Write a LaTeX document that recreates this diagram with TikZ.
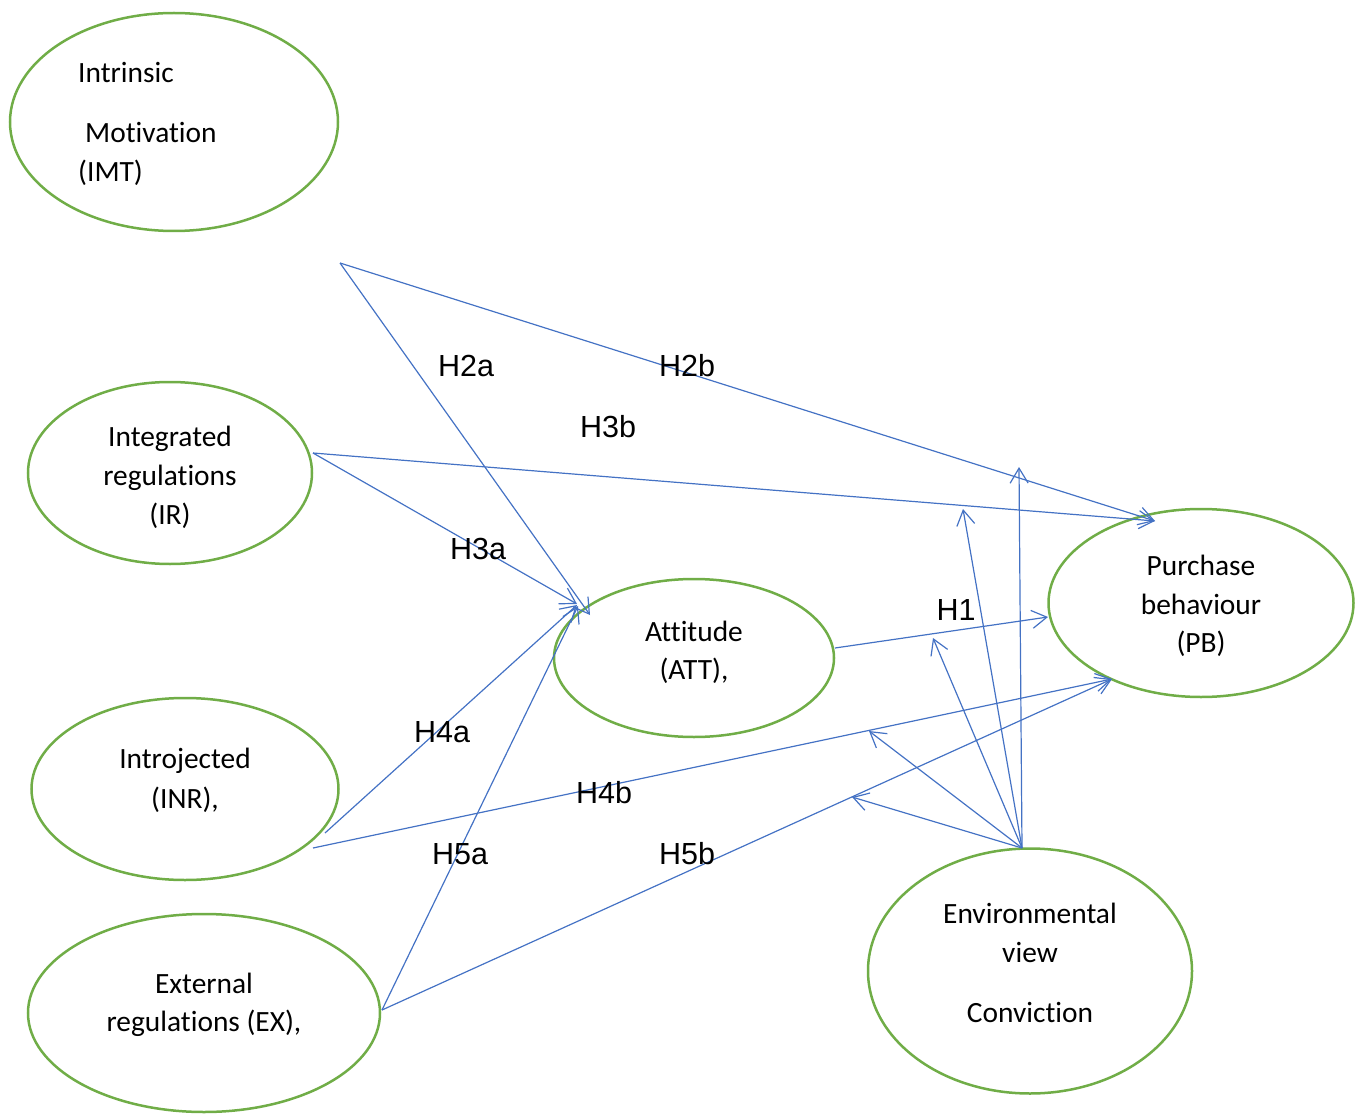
\documentclass[tikz,border=0pt]{standalone}
\usepackage{fontspec}
\setmainfont{Carlito}[Ligatures=NoCommon]
\newfontfamily\arialf{Liberation Sans}
\usetikzlibrary{arrows.meta,shapes.geometric}
\definecolor{egreen}{RGB}{112,173,71}
\definecolor{eblue}{RGB}{68,114,196}
\begin{document}
\begin{tikzpicture}[x=1pt,y=-1pt,
  ell/.style={draw=egreen, line width=2.5pt, ellipse, inner sep=0pt},
  txt/.style={font=\fontsize{29.4}{39}\selectfont, inner sep=0pt, anchor=base},
  lbl/.style={font=\arialf\fontsize{30.5}{36}\selectfont, inner sep=0pt, anchor=base},
  arr/.style={draw=eblue, line width=1.2pt, -{Straight Barb[length=15pt,width=18pt,line width=1.2pt]}},
  ln/.style={draw=eblue, line width=1.2pt}]
\useasboundingbox (0,0) rectangle (1360,1115);
% ellipses
\node[ell, minimum width=328pt, minimum height=218pt] (imt) at (174,122) {};
\node[ell, minimum width=284pt, minimum height=182pt] (ir) at (170,473) {};
\node[ell, minimum width=307pt, minimum height=182pt] (inr) at (185,789) {};
\node[ell, minimum width=352pt, minimum height=198pt] (ex) at (204,1013) {};
\node[ell, minimum width=280pt, minimum height=158pt] (att) at (694,658) {};
\node[ell, minimum width=305pt, minimum height=188pt] (pb) at (1201,603) {};
\node[ell, minimum width=324pt, minimum height=245pt] (env) at (1030,971) {};
% texts
\node[txt, anchor=base west] (imt1) at (78,83) {Intrinsic};
\node[txt, anchor=base west] (imt2) at (85,143) {Motivation};
\node[txt, anchor=base west] (imt3) at (78,182) {(IMT)};
\node[txt] (ir1) at (170,446) {Integrated};
\node[txt] (ir2) at (170,485) {regulations};
\node[txt] (ir3) at (170,524) {(IR)};
\node[txt] (inr1) at (185,768) {Introjected};
\node[txt] (inr2) at (185,808) {(INR),};
\node[txt] (ex1) at (204,993) {External};
\node[txt] (ex2) at (204,1031) {regulations (EX),};
\node[txt] (att1) at (694,641) {Attitude};
\node[txt] (att2) at (694,679) {(ATT),};
\node[txt] (pb1) at (1201,575) {Purchase};
\node[txt] (pb2) at (1201,614) {behaviour};
\node[txt] (pb3) at (1201,652) {(PB)};
\node[txt] (env1) at (1030,923) {Environmental};
\node[txt] (env2) at (1030,962) {view};
\node[txt] (env3) at (1030,1022) {Conviction};
% connector end points
\coordinate (p0) at (340,263);
\coordinate (ir0) at (313,453);
\coordinate (inr0) at (325,833);
\coordinate (inr1) at (313,848);
\coordinate (ex0) at (382,1010);
\coordinate (att0) at (835,648);
\coordinate (env0) at (1022,848);
\coordinate (ta1) at (590,615);
\coordinate (ta2) at (577,604);
\coordinate (ta3) at (577,605);
\coordinate (ta4) at (578,606);
\coordinate (tb1) at (1155,521);
\coordinate (tb2) at (1112,679);
\coordinate (tb3) at (1048,617);
\coordinate (te1) at (852,797);
\coordinate (te2) at (869,731);
\coordinate (te3) at (933,638);
\coordinate (te4) at (963,509);
\coordinate (te5) at (1019,467);
% connectors
\draw[arr] (p0) -- (ta1);
\draw[arr] (p0) -- (tb1);
\draw[arr] (ir0) -- (tb1);
\draw[arr] (ir0) -- (ta2);
\draw[arr] (inr0) -- (ta3);
\draw[arr] (inr1) -- (tb2);
\draw[arr] (ex0) -- (ta4);
\draw[arr] (ex0) -- (tb2);
\draw[arr] (att0) -- (tb3);
\draw[arr] (env0) -- (te1);
\draw[arr] (env0) -- (te2);
\draw[arr] (env0) -- (te3);
\draw[arr] (env0) -- (te4);
\draw[arr] (env0) -- (te5);
% labels
\node[lbl] (h2a) at (466,376) {H2a};
\node[lbl] (h2b) at (687,376) {H2b};
\node[lbl] (h3b) at (608,437) {H3b};
\node[lbl] (h3a) at (478,559) {H3a};
\node[lbl] (h4a) at (442,742) {H4a};
\node[lbl] (h4b) at (604,803) {H4b};
\node[lbl] (h5a) at (460,864) {H5a};
\node[lbl] (h5b) at (687,864) {H5b};
\node[lbl] (h1) at (956,620) {H1};
\end{tikzpicture}
\end{document}
